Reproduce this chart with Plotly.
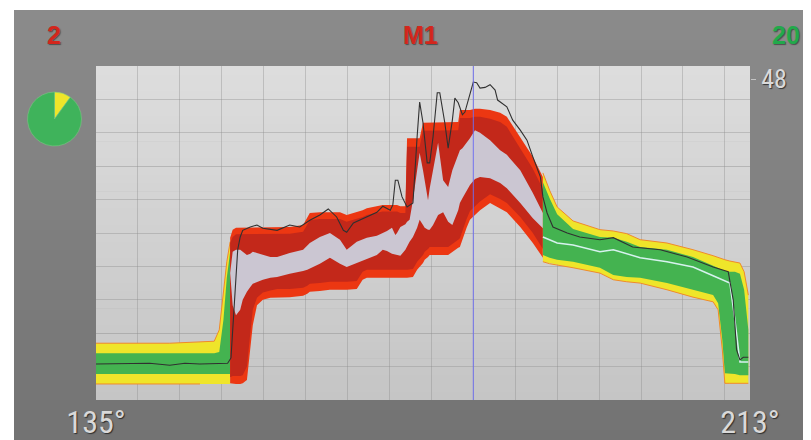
import plotly.graph_objects as go

# ---------------- data ----------------
# left segment (in tolerance: yellow / green)
L_x = [135.0, 139.1, 143.8, 147.4, 149.1, 149.7, 150.2, 150.6, 151.0]
L_yel_top = [8.5, 8.5, 8.5, 8.7, 8.8, 10.5, 15.7, 20.7, 23.7]
L_grn_top = [7.0, 7.0, 7.0, 7.0, 7.0, 7.2, 12.0, 18.3, 22.2]
L_grn_bot = [3.9, 3.9, 3.9, 3.9, 3.9, 3.9, 3.9, 3.9, 3.9]
L_yel_bot = [2.4, 2.4, 2.4, 2.4, 2.4, 2.4, 2.4, 2.4, 2.4]

# middle segment (out of tolerance: red)
M_x = [151.0, 151.3, 151.7, 152.2, 152.5, 153.0, 153.4, 153.7, 154.2, 154.9, 155.8, 156.6,
       158.1, 159.7, 160.2, 160.5, 161.7, 162.9, 164.1, 164.9, 166.1, 166.8, 167.3, 168.5,
       169.2, 169.7, 170.3, 170.7, 170.9, 171.3, 171.9,
       172.1, 172.4, 172.8, 173.3, 173.6,
       174.0, 174.2, 174.6, 174.8, 175.2, 175.8, 176.4, 177.0, 177.5,
       178.2, 178.4, 178.7, 179.2, 179.6, 180.2, 180.8, 182.0, 183.2, 184.0, 185.6, 187.1, 188.3]
M_red_top = [24.3, 25.5, 25.8, 25.8, 25.8, 25.8, 25.8, 25.8, 25.8, 25.8, 25.8, 25.8,
             25.9, 26.2, 27.3, 28.0, 28.1, 28.1, 28.1, 27.7, 28.1, 28.4, 28.7, 29.0,
             29.2, 29.2, 29.2, 29.2, 29.2, 29.0, 29.0,
             39.2, 39.2, 39.2, 39.2, 39.2,
             41.5, 41.5, 41.5, 41.5, 41.5, 41.5, 41.5, 41.5, 41.5,
             41.6, 43.4, 43.4, 43.4, 43.4, 43.6, 43.6, 43.4, 43.0, 42.4, 39.4, 36.4, 33.4]
M_dark_top = [23.5, 24.4, 24.8, 24.8, 24.8, 24.8, 24.8, 24.8, 24.8, 24.8, 24.8, 24.8,
              24.9, 25.2, 26.2, 26.9, 27.1, 27.1, 27.1, 26.7, 27.1, 27.4, 27.7, 28.0,
              28.2, 28.2, 28.2, 28.2, 28.2, 28.0, 28.0,
              37.9, 37.9, 37.9, 37.9, 37.9,
              40.3, 40.3, 40.3, 40.3, 40.3, 40.3, 40.3, 40.3, 40.3,
              40.4, 42.2, 42.2, 42.2, 42.2, 42.4, 42.4, 42.1, 41.6, 40.9, 37.7, 34.6, 31.6]
M_lav_top = [19.0, 22.2, 22.5, 22.5, 22.2, 21.7, 21.9, 22.2, 22.0, 21.7, 21.4, 21.4,
             22.0, 22.5, 23.1, 23.5, 24.4, 25.0, 24.0, 22.5, 23.7, 24.0, 24.3, 24.6,
             25.0, 25.3, 25.8, 24.7, 25.0, 25.9, 26.3,
             26.7, 27.0, 29.9, 34.4, 37.0,
             34.4, 32.9, 29.9, 31.7, 34.4, 38.5, 32.9, 31.9, 34.4,
             36.7, 37.4, 37.7, 38.5, 39.2, 40.4, 40.0, 38.9, 37.4, 36.7, 34.4, 31.0, 28.0]
M_lav_bot = [19.0, 14.2, 12.7, 13.5, 15.0, 16.2, 16.9, 17.4, 17.7, 18.0, 18.3, 18.4,
             18.9, 19.3, 19.5, 19.6, 20.4, 21.3, 20.4, 19.9, 20.5, 20.8, 21.1, 21.7,
             22.5, 22.3, 21.9, 21.7, 21.7, 21.6, 22.5,
             23.1, 23.7, 24.4, 25.8, 27.0,
             26.2, 25.8, 25.5, 25.5, 26.2, 27.7, 28.1, 26.7, 26.2,
             28.4, 29.5, 30.2, 31.4, 32.2, 33.1, 33.4, 33.2, 32.5, 31.7, 29.5, 27.2, 25.7]
M_dark_bot = [3.4, 3.6, 3.6, 3.6, 3.7, 5.0, 10.0, 13.5, 15.3, 16.1, 16.4, 16.6,
              16.6, 16.8, 17.1, 17.4, 17.5, 17.7, 17.7, 17.7, 17.8, 19.2, 19.5, 19.5,
              19.5, 19.5, 19.5, 19.5, 19.5, 19.5, 19.5,
              19.5, 19.5, 19.6, 20.7, 21.1,
              21.7, 22.2, 22.6, 22.9, 22.9, 22.9, 22.9, 22.9, 23.4,
              24.0, 24.2, 25.3, 27.1, 28.3, 29.0, 29.7, 30.8, 30.1, 29.5, 27.4, 25.0, 22.6]
M_red_bot = [2.5, 2.4, 2.4, 2.4, 2.5, 3.0, 7.5, 11.2, 14.2, 15.0, 15.3, 15.4,
             15.4, 15.6, 15.9, 16.2, 16.3, 16.5, 16.5, 16.5, 16.6, 18.0, 18.3, 18.3,
             18.3, 18.3, 18.3, 18.3, 18.3, 18.3, 18.3,
             18.3, 18.3, 18.4, 19.5, 19.9,
             20.5, 21.0, 21.4, 21.7, 21.7, 21.7, 21.7, 21.7, 22.2,
             22.8, 22.9, 24.0, 25.8, 27.0, 27.7, 28.4, 29.5, 28.7, 28.1, 25.9, 23.5, 21.3]

# right segment (in tolerance: yellow / green with median)
R_x = [188.3, 189.1, 190.0, 191.9, 195.1, 196.7, 198.3, 199.9, 203.1, 206.2,
       208.6, 209.2, 209.7, 210.0, 210.6, 211.2, 211.8, 212.3, 212.8]
R_yel_top = [34.0, 31.4, 28.9, 26.8, 25.5, 25.3, 24.9, 24.0, 23.5, 22.5,
             21.6, 21.3, 21.1, 21.0, 20.8, 20.7, 20.5, 19.2, 15.7]
R_grn_top = [32.6, 30.2, 27.8, 25.6, 24.4, 24.3, 23.7, 22.9, 22.5, 21.4,
             20.1, 19.8, 19.5, 19.3, 19.2, 19.2, 18.9, 16.5, 10.5]
R_median = [24.4, 24.0, 23.5, 23.2, 22.2, 22.5, 21.9, 21.3, 20.7, 19.9,
            18.6, 18.3, 18.0, 17.8, 17.5, 12.0, 5.7, 5.7, 5.7]
R_grn_bot = [21.7, 21.3, 21.0, 20.7, 19.8, 18.7, 18.4, 18.3, 17.5, 16.5,
             15.7, 14.5, 9.0, 4.0, 3.9, 3.9, 3.7, 3.7, 3.7]
R_yel_bot = [20.7, 20.4, 20.2, 19.8, 19.0, 18.0, 17.7, 17.5, 16.5, 15.4,
             14.7, 13.5, 7.5, 2.5, 2.5, 2.5, 2.5, 2.5, 2.5]

# measured curve
BK_x = [135.0, 139.1, 141.4, 143.8, 145.6, 147.4, 149.2, 150.7, 151.1, 151.3, 151.6, 151.9,
        152.2, 152.5, 153.4, 154.2, 154.9, 156.6, 158.1, 159.3, 160.5, 161.7, 162.7, 163.7,
        164.5, 164.9, 165.7, 167.3, 168.5, 169.2, 170.1, 170.4, 170.7, 171.0, 171.5, 172.1,
        172.8, 173.3, 173.6, 174.0, 174.5, 174.8, 175.2, 175.7, 176.0, 176.6, 177.0, 177.5,
        177.8, 178.2, 178.7, 179.0, 179.4, 180.0, 180.4, 180.8, 181.4, 182.0, 182.6, 182.9,
        184.0, 184.7, 185.6, 186.4, 187.1, 188.0, 188.3, 188.8, 189.5, 191.2, 192.7, 195.1,
        196.7, 199.0, 202.3, 205.5, 208.6, 210.4, 211.0, 211.4, 211.8, 212.2, 212.8]
BK_y = [5.4, 5.4, 5.5, 5.2, 5.5, 5.4, 5.4, 5.5, 6.3, 10.5, 16.5, 22.5,
        24.4, 25.4, 25.9, 26.2, 25.7, 25.4, 26.2, 25.9, 26.9, 27.7, 28.6, 27.4,
        25.4, 25.1, 26.5, 27.4, 28.1, 29.0, 28.4, 29.2, 32.9, 32.9, 30.4, 28.9,
        29.5, 39.4, 44.6, 41.5, 35.5, 35.5, 39.4, 46.0, 46.0, 41.5, 37.7, 41.9,
        45.2, 44.5, 42.7, 43.1, 44.9, 47.6, 47.5, 46.7, 46.8, 47.2, 46.4, 44.9,
        43.9, 41.9, 40.4, 38.9, 36.4, 33.4, 30.4, 28.0, 25.9, 25.0, 24.4, 24.0,
        24.3, 22.9, 22.5, 21.4, 19.9, 19.2, 15.0, 7.5, 6.0, 6.4, 6.4]

CURSOR_X = 180
X_RANGE = [135, 213]
Y_RANGE = [0, 50]
X_TICKS = [135, 213]
X_TICKTEXT = ["135°", "213°"]
Y_TICKS = [48]
Y_TICKTEXT = ["48"]
PIE_LABELS = ["out", "in"]
PIE_VALUES = [2, 18]
TOP_LEFT = "2"
TOP_MID = "M1"
TOP_RIGHT = "20"

# ---------------- style ----------------
# the page body has an 8px margin: the figure is sized so that it ends at the window edge
PAGE_W, PAGE_H, BODY = 811, 440, 8
W, H = PAGE_W - BODY, PAGE_H - BODY
YELLOW = "#efe52a"
GREEN = "#44b350"
RED = "#ec3712"
DARK_RED = "#c3281a"
LAVENDER = "#cbc6d2"
ORANGE = "#f08a2a"
NARROW = "Liberation Sans Narrow, Roboto Condensed, Liberation Sans, sans-serif"


def pxx(x):
    return (x - BODY) / W


def pxy(y):
    return 1 - (y - BODY) / H


def lerp_col(c1, c2, t):
    a = [int(c1[i:i + 2], 16) for i in (1, 3, 5)]
    b = [int(c2[i:i + 2], 16) for i in (1, 3, 5)]
    return "rgb(%d,%d,%d)" % tuple(round(a[k] + (b[k] - a[k]) * t) for k in range(3))


shapes = []


def gradient(x0, x1, y0, y1, ctop, cbot, n):
    step = (y1 - y0) / n
    for i in range(n):
        ya = y0 + i * step
        yb = min(y1, ya + step + 0.6)
        shapes.append(dict(type="rect", xref="paper", yref="paper", layer="below",
                           x0=pxx(x0), x1=pxx(x1), y0=pxy(yb), y1=pxy(ya),
                           fillcolor=lerp_col(ctop, cbot, (i + 0.5) / n),
                           line=dict(width=0)))


gradient(14, PAGE_W, 10, PAGE_H, "#8b8b8b", "#737373", 43)
gradient(96, 750, 66, 400, "#dddddd", "#c5c5c5", 40)

fig = go.Figure()


def band(xs, top, bot, color):
    fig.add_trace(go.Scatter(
        x=list(xs) + list(xs)[::-1], y=list(top) + list(bot)[::-1],
        fill="toself", fillcolor=color, mode="lines", line=dict(width=0),
        hoverinfo="skip", showlegend=False))


def edge(xs, ys, color, width):
    fig.add_trace(go.Scatter(x=xs, y=ys, mode="lines", line=dict(color=color, width=width),
                             hoverinfo="skip", showlegend=False))


# left
band(L_x, L_yel_top, L_yel_bot, YELLOW)
band(L_x, L_grn_top, L_grn_bot, GREEN)
edge(L_x, L_yel_top, ORANGE, 1)
edge(L_x[:4], L_yel_bot[:4], ORANGE, 1)
# middle
band(M_x, M_red_top, M_red_bot, RED)
band(M_x, M_dark_top, M_dark_bot, DARK_RED)
band(M_x, M_lav_top, M_lav_bot, LAVENDER)
# right
band(R_x, R_yel_top, R_yel_bot, YELLOW)
band(R_x, R_grn_top, R_grn_bot, GREEN)
edge(R_x, R_yel_top, ORANGE, 1)
edge(R_x, R_yel_bot, ORANGE, 1)
edge(R_x, R_median, "#d6f2ee", 1.5)
# measured
edge(BK_x, BK_y, "#303030", 1.1)

# pie
fig.add_trace(go.Pie(
    labels=PIE_LABELS, values=PIE_VALUES, sort=False, direction="clockwise", rotation=0,
    marker=dict(colors=[YELLOW, "#3fb35b"], line=dict(color="rgba(120,200,130,0.6)", width=1)),
    textinfo="none", hoverinfo="skip", showlegend=False, automargin=False,
    domain=dict(x=[pxx(27), pxx(82)], y=[pxy(146), pxy(92)])))

shapes.append(dict(type="line", xref="x", yref="paper", layer="above",
                   x0=CURSOR_X, x1=CURSOR_X, y0=pxy(400), y1=pxy(66),
                   line=dict(color="rgba(110,110,240,0.95)", width=1)))

grid_col = "rgba(140,140,140,0.38)"
label_shadow = "1px 1px 1px rgba(0,0,0,0.6)"

fig.update_layout(
    width=W, height=H, autosize=False,
    margin=dict(l=0, r=0, t=0, b=0, pad=0),
    paper_bgcolor="white",
    plot_bgcolor="rgba(0,0,0,0)",
    shapes=shapes,
    xaxis=dict(domain=[pxx(96), pxx(750)], range=X_RANGE, tickmode="array", automargin=False,
               tickvals=X_TICKS, ticktext=X_TICKTEXT, ticks="", showgrid=False,
               zeroline=False, showline=False, ticklabelstandoff=0,
               tickfont=dict(family=NARROW, size=32, color="#d9d9d9", shadow=label_shadow),
               minor=dict(tickmode="linear", tick0=135, dtick=5, showgrid=True,
                          gridcolor=grid_col, gridwidth=1, ticks="")),
    yaxis=dict(domain=[pxy(400), pxy(66)], range=Y_RANGE, side="right", tickmode="array",
               automargin=False,
               tickvals=Y_TICKS, ticktext=Y_TICKTEXT, ticks="outside", ticklen=5,
               tickwidth=1, tickcolor="#c4c4c4", showgrid=False, zeroline=False,
               showline=False,
               tickfont=dict(family=NARROW, size=26, color="#dadada", shadow=label_shadow),
               minor=dict(tickmode="linear", tick0=0, dtick=5, showgrid=True,
                          gridcolor=grid_col, gridwidth=1, ticks="")),
    annotations=[
        dict(text=TOP_LEFT, xref="paper", yref="paper", x=pxx(54), y=pxy(35),
             showarrow=False, xanchor="center", yanchor="middle",
             font=dict(family="Liberation Sans", size=25, weight="bold", color="#d3261c",
                       shadow="1px 1px 1px rgba(40,40,40,0.6)")),
        dict(text=TOP_MID, xref="paper", yref="paper", x=pxx(421), y=pxy(35),
             showarrow=False, xanchor="center", yanchor="middle",
             font=dict(family="Liberation Sans", size=25, weight="bold", color="#d3261c",
                       shadow="1px 1px 1px rgba(40,40,40,0.6)")),
        dict(text=TOP_RIGHT, xref="paper", yref="paper", x=pxx(786), y=pxy(35),
             showarrow=False, xanchor="center", yanchor="middle",
             font=dict(family="Liberation Sans", size=25, weight="bold", color="#22a94b",
                       shadow="1px 1px 1px rgba(40,40,40,0.6)")),
    ],
)

fig.write_html("out.html")
